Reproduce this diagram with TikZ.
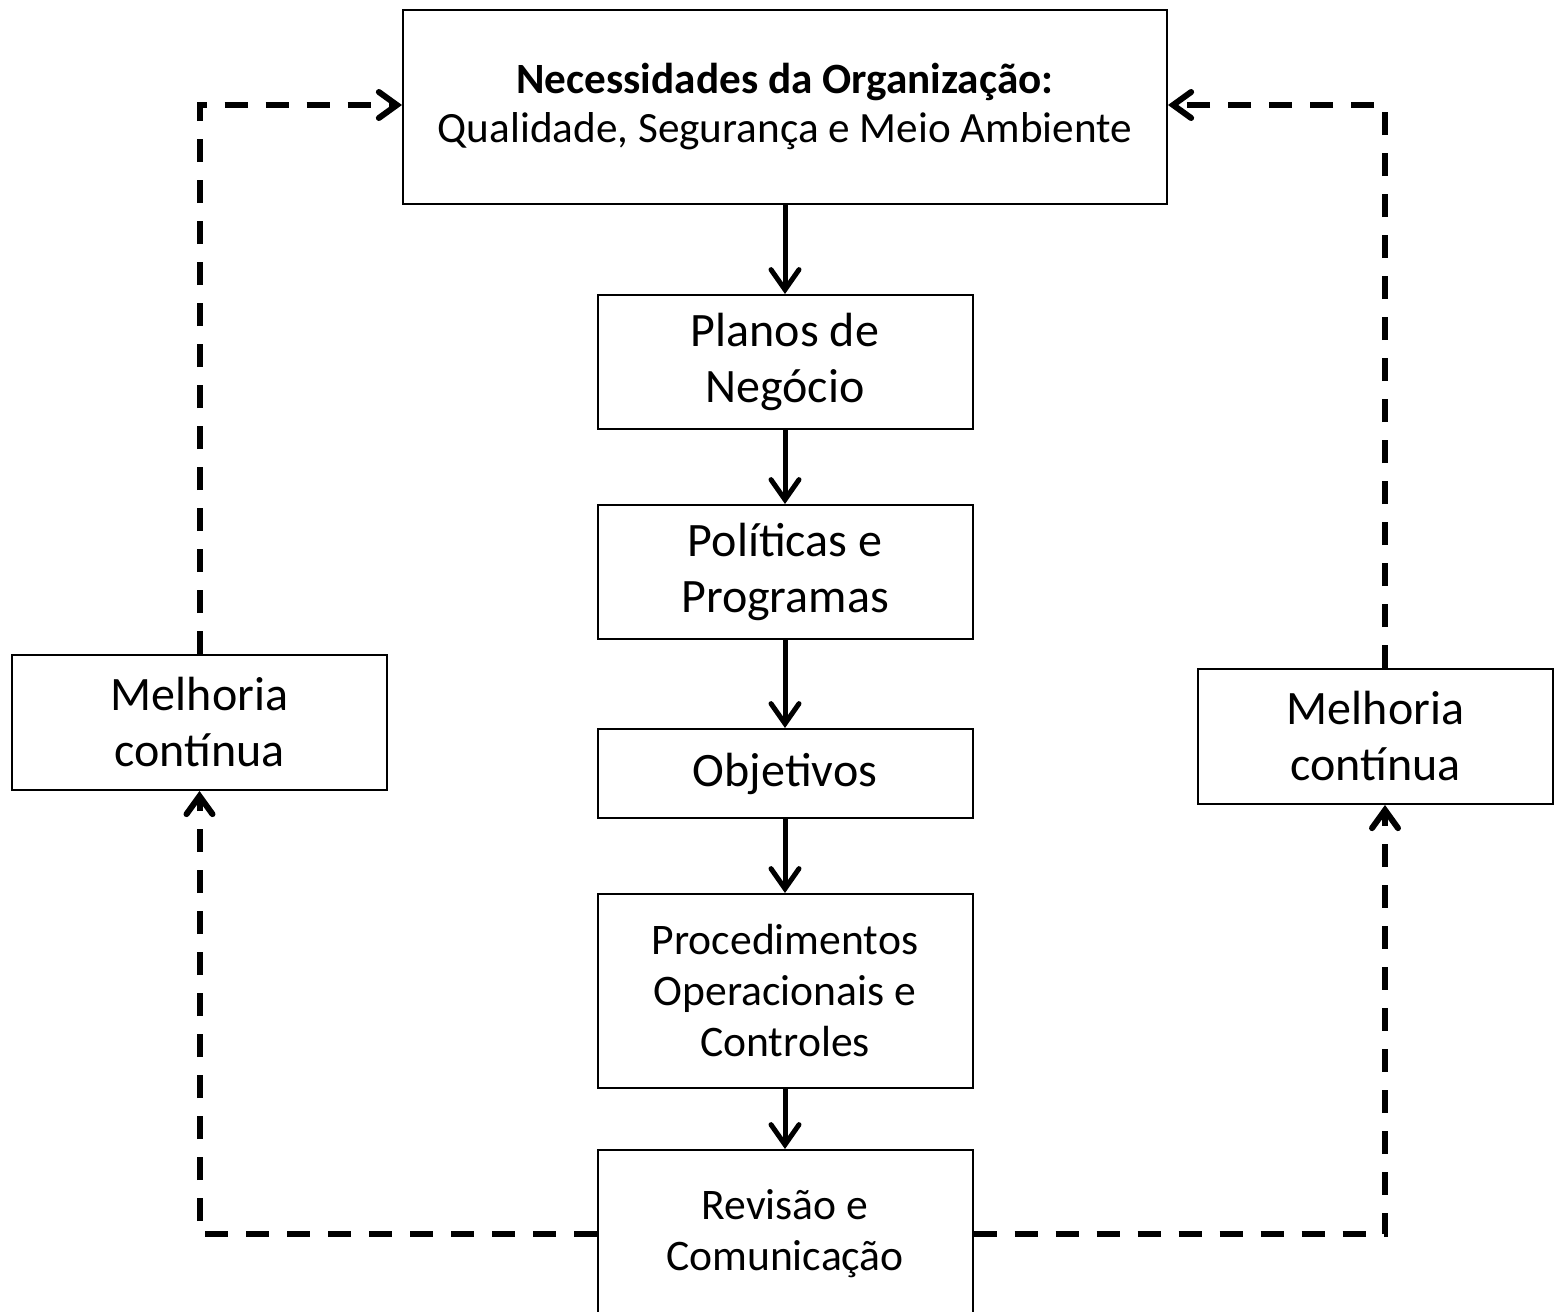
\documentclass[tikz,border=0pt]{standalone}
\usepackage{fontspec}
\setmainfont{Carlito}
\usetikzlibrary{arrows.meta}

\begin{document}
\begin{tikzpicture}[x=.5pt,y=-.5pt,
  every node/.style={text=black,align=center,inner sep=0pt},
  box/.style={draw=black,line width=1pt,fill=white},
  big/.style={font=\fontsize{24}{28}\selectfont},
  small/.style={font=\fontsize{21.8}{25.5}\selectfont},
  flow/.style={-{Straight Barb[length=10pt,width=14pt,line cap=round]},line width=2.5pt},
  loop/.style={-{Straight Barb[length=9pt,width=13pt,line cap=round]},line width=3pt,
    dash pattern=on 11.5pt off 9pt}]

% page frame, in reference pixels
\useasboundingbox (0,0) rectangle (1555,1312);

% -------------------------------------------------------------------------
% Central chain.
% -------------------------------------------------------------------------
\node[box,minimum width=382pt,minimum height=97pt,
  font=\fontsize{21.6}{24.5}\selectfont] (need) at (785,107)
  {\textbf{Necessidades da Organização:}\\Qualidade, Segurança e Meio Ambiente};
\node[box,big,minimum width=187.5pt,minimum height=67pt] (plan) at (785,362)
  {Planos de\\Negócio};
\node[box,big,minimum width=187.5pt,minimum height=67pt] (poli) at (785,572)
  {Políticas e\\Programas};
\node[box,big,minimum width=187.5pt,minimum height=44.5pt] (obj) at (785,773.5)
  {Objetivos};
\node[box,small,minimum width=187.5pt,minimum height=97pt] (proc) at (785,991)
  {Procedimentos\\Operacionais e\\Controles};
\node[box,small,minimum width=187.5pt,minimum height=84pt] (rev) at (785,1234)
  {Revisão e\\Comunicação};

\draw[flow] (need) -- (plan);
\draw[flow] (plan) -- (poli);
\draw[flow] (poli) -- (obj);
\draw[flow] (obj) -- (proc);
\draw[flow] (proc) -- (rev);

% -------------------------------------------------------------------------
% Feedback loops.
% -------------------------------------------------------------------------
\node[box,big,minimum width=187.5pt,minimum height=67.5pt] (impL) at (199.5,722.5)
  {Melhoria\\contínua};
\node[box,big,minimum width=177.5pt,minimum height=67.5pt] (impR) at (1375.5,736.5)
  {Melhoria\\contínua};

\coordinate (cL) at (200,105);
\coordinate (cR) at (1385,105);

\draw[loop] (rev.west) -| (impL.south);
\draw[loop] (impL.north) |- (need.west |- cL);
\draw[loop] (rev.east) -| (impR.south -| cR);
\draw[loop] (impR.north -| cR) |- (need.east |- cR);
\end{tikzpicture}
\end{document}
